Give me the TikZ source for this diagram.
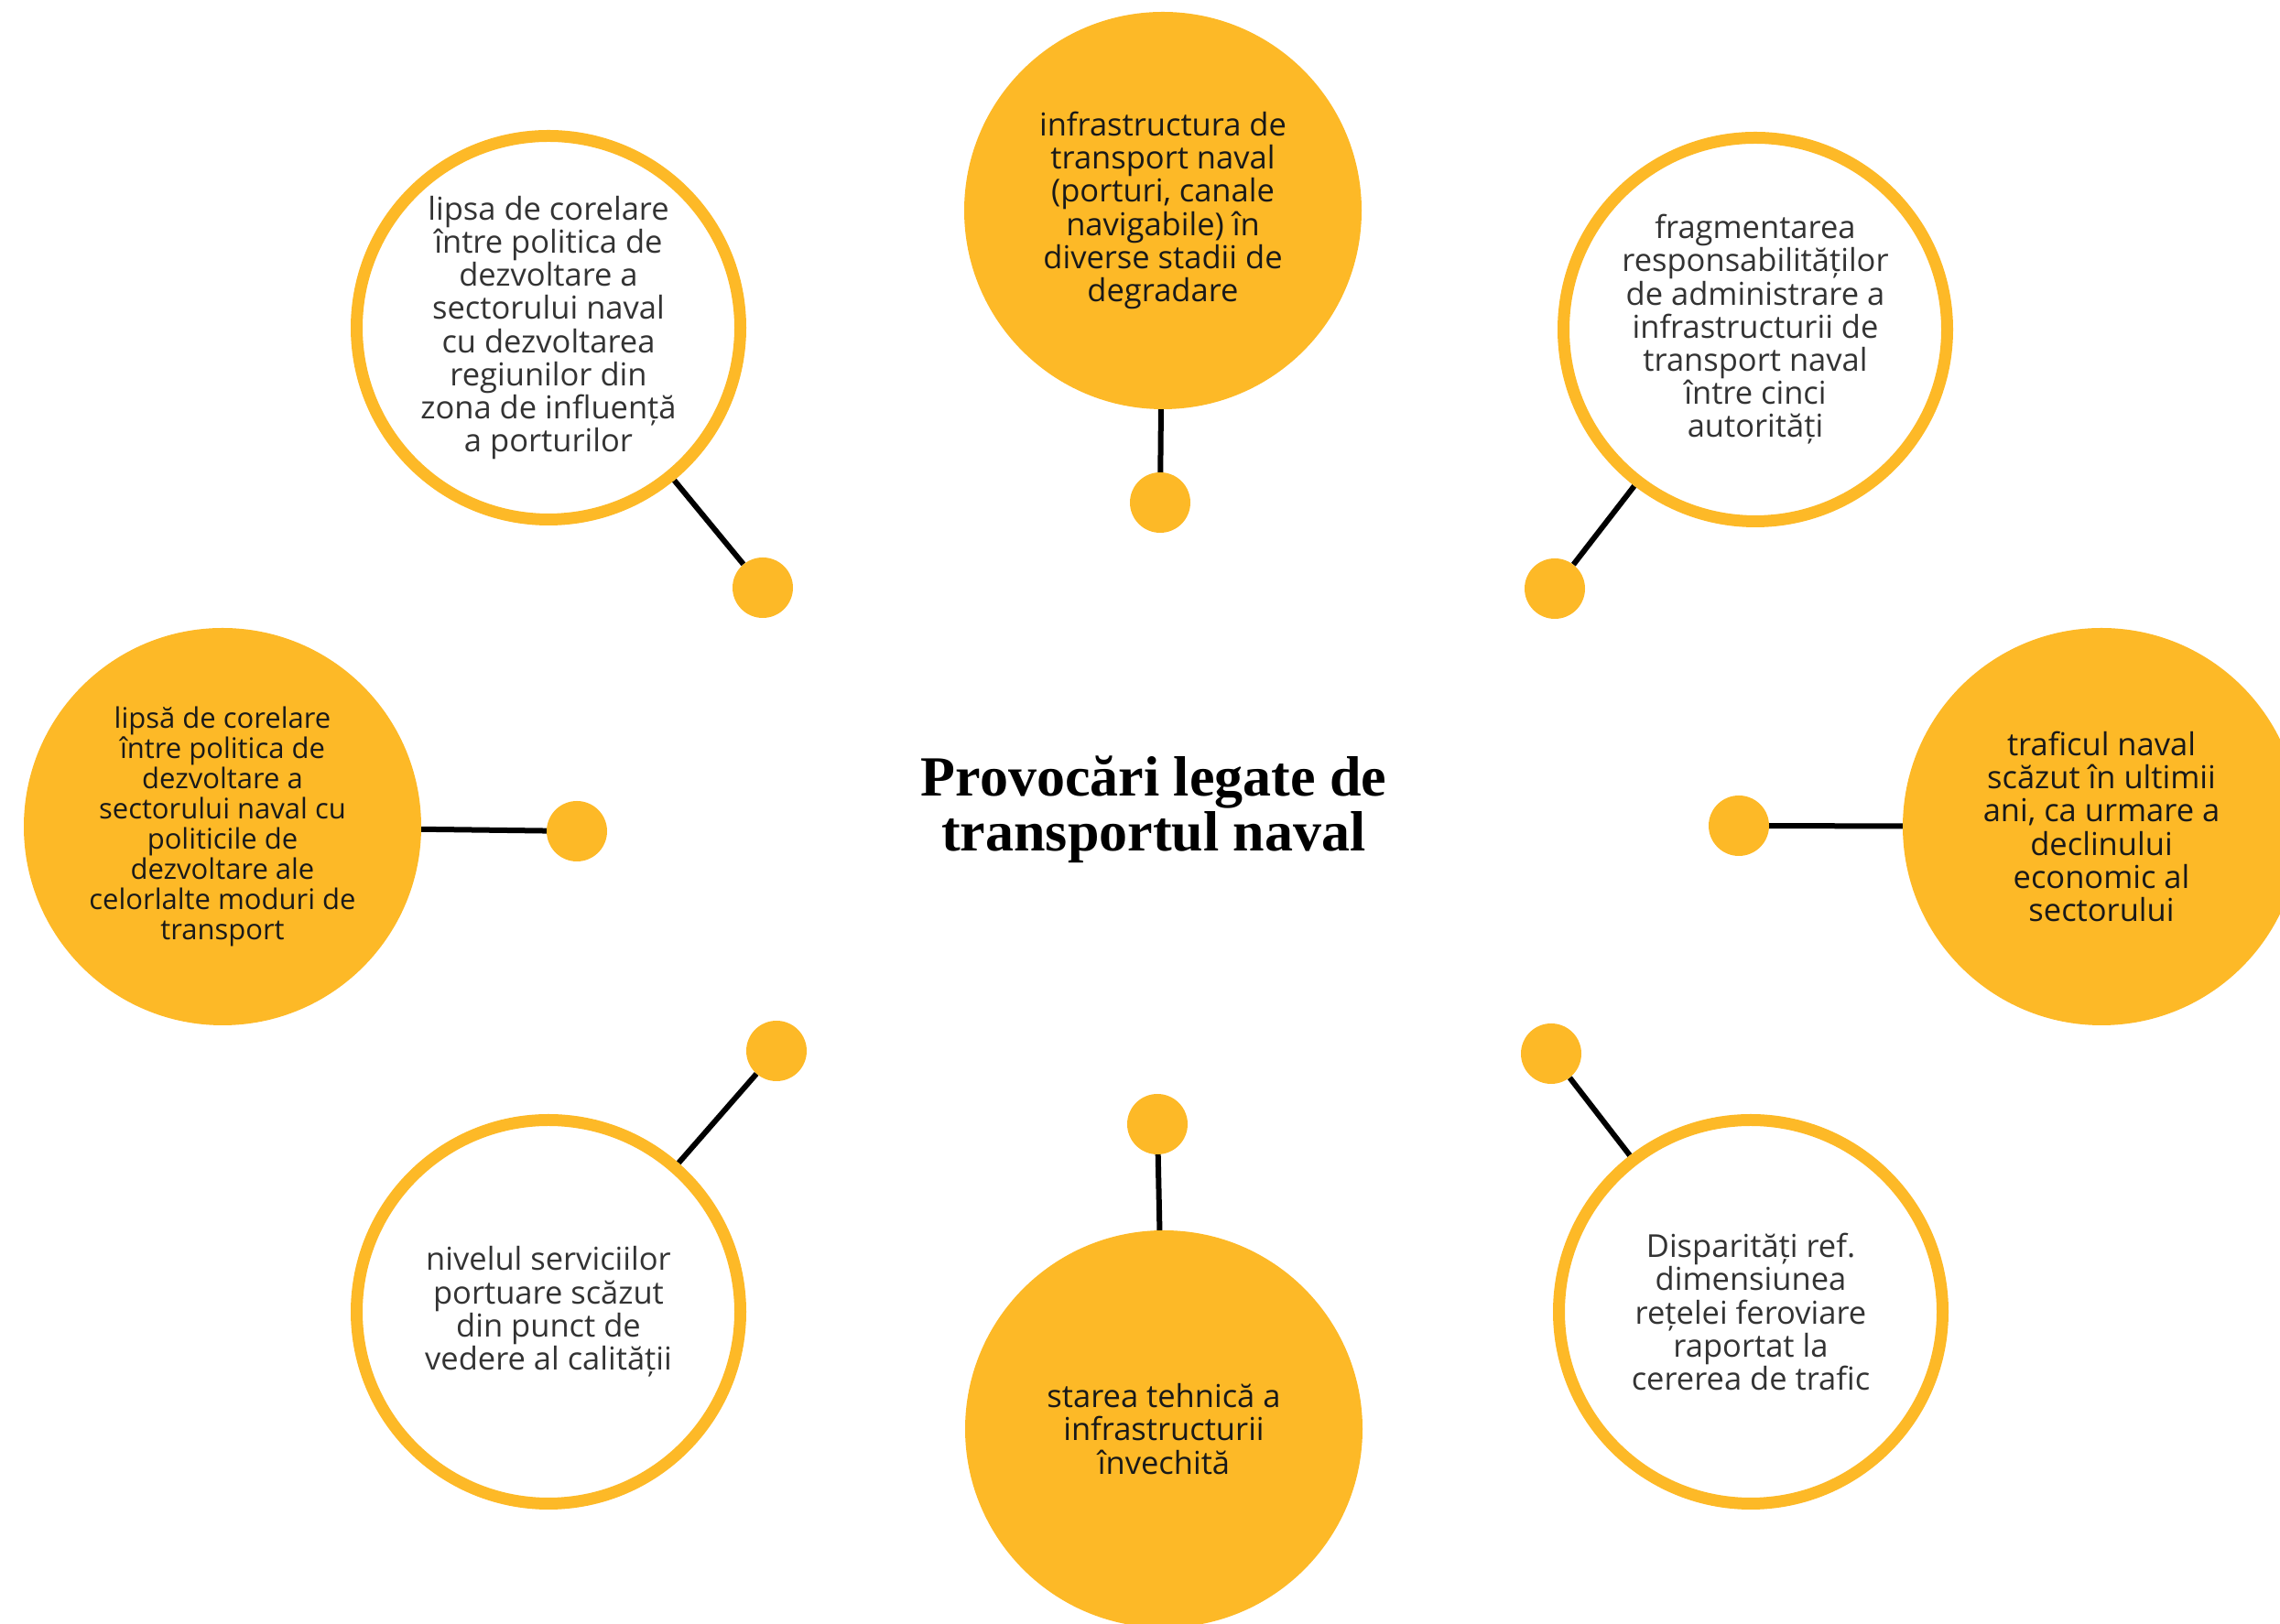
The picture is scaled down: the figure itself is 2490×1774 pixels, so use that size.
\documentclass[tikz,border=0pt]{standalone}
\usepackage{fontspec}
\setmainfont{Liberation Serif}
\newfontfamily\bubblefont{Open Sans}
\usetikzlibrary{
backgrounds
}
\definecolor{navgold}{RGB}{253,185,39}

\begin{document}
\begin{tikzpicture}[
        x=1pt, y=1pt,
        bubble/.style={
          circle,
          inner sep = 0pt,
          align = center,
          font = \bubblefont\fontsize{34.5}{36.2}\selectfont,
        },
        full bubble/.style={
          bubble,
          fill = navgold,
          minimum size = 434pt,
          text = black!90,
        },
        ring bubble/.style={
          bubble,
          draw = navgold,
          line width = 13pt,
          fill = white,
          minimum size = 419pt,
          text = black!80,
        },
        knob/.style={
          circle,
          fill = navgold,
          inner sep = 0pt,
          minimum size = 66pt,
        },
        stem/.style={
          line width = 6pt,
          black,
        },
        ]
        \useasboundingbox (0,0) rectangle (2490,1774);

        \node [font=\bfseries\fontsize{62}{60}\selectfont, align=center] (title)
        at (1260,890) {Provocări legate de\\ transportul naval};

        \node [full bubble] (infra) at (1270,1544)
        {infrastructura de\\ transport naval\\ (porturi, canale\\ navigabile) în\\ diverse stadii de\\ degradare};
        \node [ring bubble] (corelare) at (599,1416)
        {lipsa de corelare\\ între politica de\\ dezvoltare a\\ sectorului naval\\ cu dezvoltarea\\ regiunilor din\\ zona de influență\\ a porturilor};
        \node [ring bubble] (fragment) at (1917,1414)
        {fragmentarea\\ responsabilităților\\ de administrare a\\ infrastructurii de\\ transport naval\\ între cinci\\ autorități};
        \node [full bubble, font=\bubblefont\fontsize{31}{33}\selectfont] (moduri) at (243,871)
        {lipsă de corelare\\ între politica de\\ dezvoltare a\\ sectorului naval cu\\ politicile de\\ dezvoltare ale\\ celorlalte moduri de\\ transport};
        \node [full bubble] (trafic) at (2295,871)
        {traficul naval\\ scăzut în ultimii\\ ani, ca urmare a\\ declinului\\ economic al\\ sectorului};
        \node [ring bubble] (servicii) at (599,341)
        {nivelul serviciilor\\ portuare scăzut\\ din punct de\\ vedere al calității};
        \node [full bubble] (stare) at (1271,213)
        {starea tehnică a\\ infrastructurii\\ învechită};
        \node [ring bubble] (retea) at (1912,341)
        {Disparități ref.\\ dimensiunea\\ rețelei feroviare\\ raportat la\\ cererea de trafic};

        \node [knob] (knob-infra) at (1267,1225) {};
        \node [knob] (knob-corelare) at (833,1132) {};
        \node [knob] (knob-fragment) at (1698,1131) {};
        \node [knob] (knob-moduri) at (630,866) {};
        \node [knob] (knob-trafic) at (1899,872) {};
        \node [knob] (knob-servicii) at (848,626) {};
        \node [knob] (knob-retea) at (1694,623) {};
        \node [knob] (knob-stare) at (1264,546) {};

        \begin{scope}[on background layer]
          \foreach \n in {infra,corelare,fragment,moduri,trafic,servicii,retea,stare}
            \draw [stem] (knob-\n) -- (\n);
        \end{scope}
      \end{tikzpicture}
\end{document}
